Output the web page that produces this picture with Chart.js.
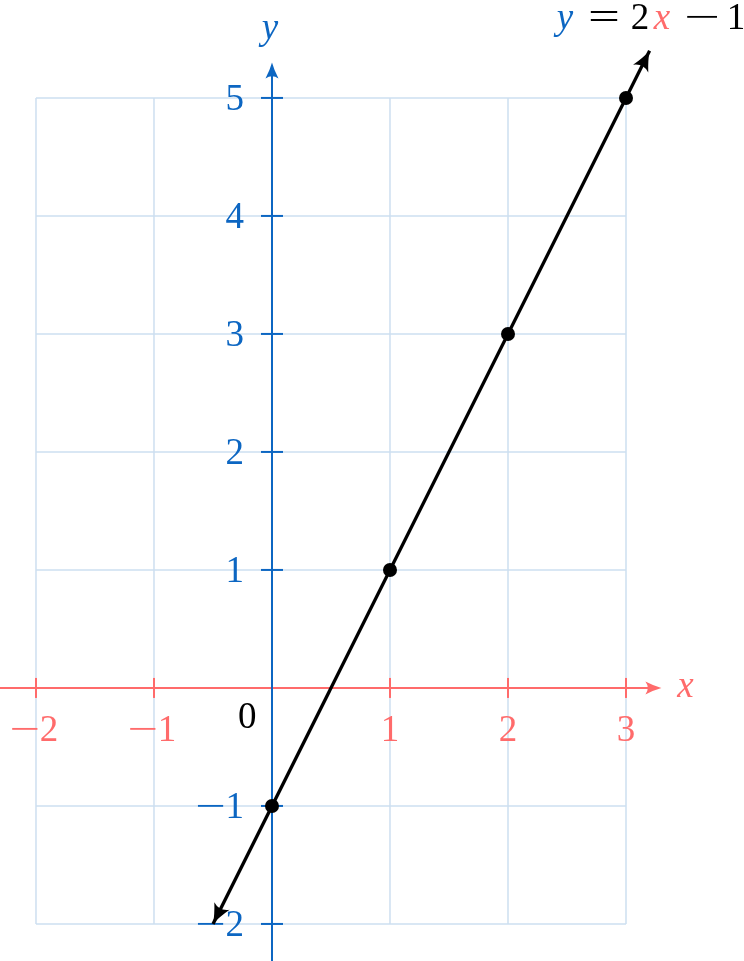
<!DOCTYPE html>
<html>
<head>
<meta charset="utf-8">
<script src="https://cdn.jsdelivr.net/npm/chart.js@4.4.0/dist/chart.umd.min.js"></script>
<style>
html, body { margin: 0; padding: 0; background: #fff; }
#wrap { width: 744px; height: 961px; }
</style>
</head>
<body>
<div id="wrap"><canvas id="plane" width="744" height="961"></canvas></div>
<script>
// tick labels along each axis
const xTicks = [-2, -1, 1, 2, 3];
const yTicks = [-2, -1, 1, 2, 3, 4, 5];
// grid lines
const gridX = [-2, -1, 0, 1, 2, 3];
const gridY = [-2, -1, 0, 1, 2, 3, 4, 5];
// marked points on y = 2x - 1
const pointX = [0, 1, 2, 3];
const pointY = [-1, 1, 3, 5];
// ends of the drawn line (arrow tips)
const lineX = [-0.5, 3.2];
const lineY = [-2, 5.4];
// visible window and axis extents
const xView = [-2.305, 4.0];
const yView = [-2.314, 5.83];
const xAxisEnd = 3.3;
const yAxisEnd = 5.3;

const RED = '#ff6b6b';
const BLUE = '#0c66c2';
const GRID = '#cddff0';
const SERIF = '"Liberation Serif", serif';
const DIGIT_FONT = '37px ' + SERIF;

/**
 * Draw a LaTeX style arrow head with its tip at (tx, ty)
 */
function arrowHead(ctx, tx, ty, fx, fy, color, len, half) {
    const a = Math.atan2(ty - fy, tx - fx);
    ctx.save();
    ctx.translate(tx, ty);
    ctx.rotate(a);
    ctx.fillStyle = color;
    ctx.beginPath();
    ctx.moveTo(0, 0);
    ctx.quadraticCurveTo(-len * 0.45, -half * 0.3, -len, -half);
    ctx.quadraticCurveTo(-len * 0.7, 0, -len, half);
    ctx.quadraticCurveTo(-len * 0.45, half * 0.3, 0, 0);
    ctx.fill();
    ctx.restore();
}

/**
 * Draw a symmetric glyph (minus, equals) stretched sideways
 */
function wideGlyph(ctx, ch, cx, baseline, targetW) {
    ctx.font = DIGIT_FONT;
    ctx.textAlign = 'center';
    const adv = ctx.measureText(ch).width;
    ctx.save();
    ctx.translate(cx, baseline);
    ctx.scale(targetW / (adv * 0.72), 1);
    ctx.fillText(ch, 0, 0);
    ctx.restore();
}

/**
 * Draw a signed number with a long TeX-like minus sign
 */
function numberLabel(ctx, v, x, baseline, align) {
    const digits = String(Math.abs(v));
    ctx.font = DIGIT_FONT;
    const dw = ctx.measureText(digits).width;
    const minusW = 22;
    const gap = 4;
    const mw = v < 0 ? minusW + gap : 0;
    const total = mw + dw;
    let left = x;
    if (align === 'center') left = x - total / 2;
    if (align === 'right') left = x - total;
    if (v < 0) wideGlyph(ctx, '\u2212', left + minusW / 2, baseline, minusW);
    ctx.font = DIGIT_FONT;
    ctx.textAlign = 'left';
    ctx.fillText(digits, left + mw, baseline);
}

const planePlugin = {
    id: 'plane',
    beforeDatasetsDraw(chart) {
        const ctx = chart.ctx;
        const sx = chart.scales.x;
        const sy = chart.scales.y;
        const area = chart.chartArea;
        const X = v => sx.getPixelForValue(v);
        const Y = v => sy.getPixelForValue(v);
        const x0 = X(0);
        const y0 = Y(0);

        ctx.save();

        // grid
        ctx.strokeStyle = GRID;
        ctx.lineWidth = 1.5;
        gridX.forEach(v => {
            ctx.beginPath();
            ctx.moveTo(X(v), Y(gridY[0]));
            ctx.lineTo(X(v), Y(gridY[gridY.length - 1]));
            ctx.stroke();
        });
        gridY.forEach(v => {
            ctx.beginPath();
            ctx.moveTo(X(gridX[0]), Y(v));
            ctx.lineTo(X(gridX[gridX.length - 1]), Y(v));
            ctx.stroke();
        });

        // x axis
        ctx.strokeStyle = RED;
        ctx.lineWidth = 2;
        ctx.beginPath();
        ctx.moveTo(area.left, y0);
        ctx.lineTo(X(xAxisEnd) - 6, y0);
        ctx.stroke();
        arrowHead(ctx, X(xAxisEnd), y0, area.left, y0, RED, 16, 6.5);
        xTicks.forEach(v => {
            ctx.beginPath();
            ctx.moveTo(X(v), y0 - 10);
            ctx.lineTo(X(v), y0 + 10);
            ctx.stroke();
        });

        // y axis
        ctx.strokeStyle = BLUE;
        ctx.beginPath();
        ctx.moveTo(x0, area.bottom);
        ctx.lineTo(x0, Y(yAxisEnd) + 6);
        ctx.stroke();
        arrowHead(ctx, x0, Y(yAxisEnd), x0, area.bottom, BLUE, 16, 6.5);
        yTicks.forEach(v => {
            ctx.beginPath();
            ctx.moveTo(x0 - 11, Y(v));
            ctx.lineTo(x0 + 11, Y(v));
            ctx.stroke();
        });

        // tick labels
        ctx.textBaseline = 'alphabetic';
        ctx.fillStyle = RED;
        xTicks.forEach(v => numberLabel(ctx, v, X(v), y0 + 53, 'center'));
        ctx.fillStyle = BLUE;
        yTicks.forEach(v => numberLabel(ctx, v, x0 - 28, Y(v) + 12, 'right'));
        ctx.fillStyle = '#000';
        numberLabel(ctx, 0, x0 - 34, y0 + 40, 'left');

        // axis names
        ctx.font = 'italic 37px ' + SERIF;
        ctx.textAlign = 'center';
        ctx.fillStyle = RED;
        ctx.fillText('x', X(xAxisEnd) + 24, y0 + 9);
        ctx.fillStyle = BLUE;
        ctx.fillText('y', x0 - 2, Y(yAxisEnd) - 24);

        ctx.restore();
    },
    afterDatasetsDraw(chart) {
        const ctx = chart.ctx;
        const sx = chart.scales.x;
        const sy = chart.scales.y;
        const ax = sx.getPixelForValue(lineX[0]);
        const ay = sy.getPixelForValue(lineY[0]);
        const bx = sx.getPixelForValue(lineX[1]);
        const by = sy.getPixelForValue(lineY[1]);

        ctx.save();
        arrowHead(ctx, bx, by, ax, ay, '#000', 20, 8.5);
        arrowHead(ctx, ax, ay, bx, by, '#000', 20, 8.5);

        // equation label: y = 2x − 1
        const base = 29;
        ctx.textBaseline = 'alphabetic';
        ctx.textAlign = 'center';
        ctx.font = 'italic 37px ' + SERIF;
        ctx.fillStyle = BLUE;
        ctx.fillText('y', 565, base);
        ctx.fillStyle = '#000';
        wideGlyph(ctx, '=', 604, base, 23);
        ctx.font = DIGIT_FONT;
        ctx.textAlign = 'center';
        ctx.fillText('2', 640, base);
        ctx.font = 'italic 37px ' + SERIF;
        ctx.fillStyle = RED;
        ctx.fillText('x', 662, base);
        ctx.fillStyle = '#000';
        wideGlyph(ctx, '\u2212', 702, base, 26);
        ctx.font = DIGIT_FONT;
        ctx.textAlign = 'center';
        ctx.fillText('1', 736, base);
        ctx.restore();
    }
};

const ctx = document.getElementById('plane').getContext('2d');
new Chart(ctx, {
    type: 'scatter',
    data: {
        datasets: [
            {
                data: pointX.map((x, i) => ({ x: x, y: pointY[i] })),
                pointRadius: 7,
                pointBackgroundColor: '#000',
                pointBorderColor: '#000',
                pointBorderWidth: 0,
                order: 1
            },
            {
                data: lineX.map((x, i) => ({ x: x, y: lineY[i] })),
                showLine: true,
                borderColor: '#000',
                borderWidth: 3.3,
                pointRadius: 0,
                clip: false,
                order: 2
            }
        ]
    },
    options: {
        responsive: false,
        animation: false,
        events: [],
        layout: { padding: 0, autoPadding: false },
        plugins: {
            legend: { display: false },
            tooltip: { enabled: false }
        },
        scales: {
            x: { type: 'linear', min: xView[0], max: xView[1], display: false },
            y: { type: 'linear', min: yView[0], max: yView[1], display: false }
        }
    },
    plugins: [planePlugin]
});
</script>
</body>
</html>
